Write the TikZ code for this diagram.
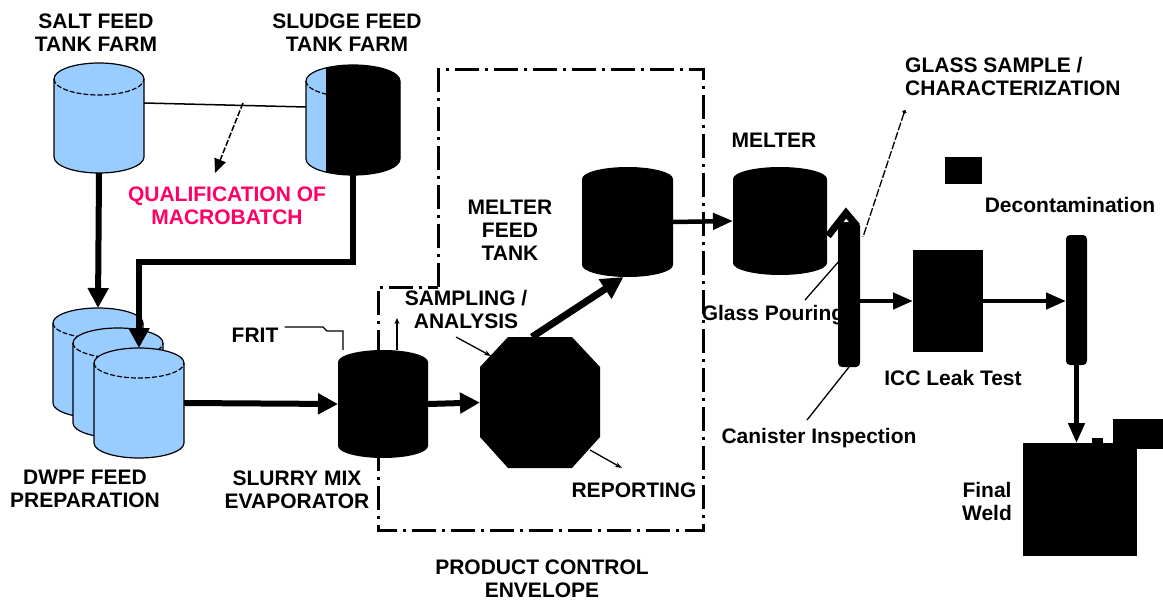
\documentclass[tikz,border=0pt]{standalone}
\usepackage{fontspec}
\setmainfont{Liberation Sans}
\usetikzlibrary{arrows.meta,calc}
\definecolor{tankblue}{RGB}{153,204,255}
\definecolor{qualpink}{RGB}{255,0,102}
% drum: style, x1, ytop, x2, ybot, ry
\newcommand\mydrum[6]{\path[#1] (#2,#3-#6) arc[start angle=180,end angle=0,x radius={((#4)-(#2))/2*1pt},y radius=#6pt] -- (#4,#5+#6) arc[start angle=0,end angle=-180,x radius={((#4)-(#2))/2*1pt},y radius=#6pt] -- cycle;}
% rim: x1, ytop, x2, ry
\newcommand\myrim[4]{\draw[line width=1.2pt,dash pattern=on 5pt off 2pt] (#1,#2-#4) arc[start angle=180,end angle=360,x radius={((#3)-(#1))/2*1pt},y radius=#4pt];}
% anchor box: name, x1, ytop, x2, ybot
\newcommand\myanc[5]{\node[inner sep=0,outer sep=0,minimum width={(#4)-(#2)},minimum height={(#3)-(#5)}] (#1) at ({((#2)+(#4))/2},{((#3)+(#5))/2}) {};}
\tikzset{
  lbl/.style={font=\fontsize{21}{23}\selectfont\bfseries,align=center,inner sep=0},
  flow/.style={line width=6pt,-{Triangle[length=20pt,width=20pt]}},
  flowthin/.style={line width=4.5pt,-{Triangle[length=20pt,width=16pt]}},
  leader/.style={line width=1.3pt},
  envelope/.style={line width=3pt,dash pattern=on 24pt off 6pt on 3pt off 6pt},
  blk/.style={fill=black}
}
\begin{document}
\begin{tikzpicture}[x=1pt,y=1pt]
\useasboundingbox (0,0) rectangle (1163,-602);
% ---------- tanks ----------
\myanc{salt}{54}{-63}{144}{-173}
\mydrum{fill=tankblue,draw=black,line width=1.2pt}{54}{-63}{144}{-173}{16}
\myrim{54}{-63}{144}{16}
\myanc{sludge}{306}{-65}{400}{-175}
\mydrum{fill=tankblue,draw=black,line width=1.2pt}{306}{-65}{400}{-175}{16}
\myrim{306}{-65}{400}{16}
\begin{scope}
\clip (326,-40) rectangle (430,-200);
\mydrum{blk}{306}{-65}{400}{-175}{16}
\end{scope}
% DWPF feed tanks
\myanc{dwpfback}{53}{-308}{143}{-418}
\mydrum{fill=tankblue,draw=black,line width=1.2pt}{53}{-308}{143}{-418}{15}
\myrim{53}{-308}{143}{15}
\myanc{dwpfmid}{73}{-328}{163}{-438}
\mydrum{fill=tankblue,draw=black,line width=1.2pt}{73}{-328}{163}{-438}{15}
\myrim{73}{-328}{163}{15}
\myanc{dwpffront}{94}{-348}{184}{-458}
\mydrum{fill=tankblue,draw=black,line width=1.2pt}{94}{-348}{184}{-458}{15}
\myrim{94}{-348}{184}{15}
% black vessels
\myanc{slurry}{338}{-350}{428}{-458}
\mydrum{blk}{338}{-350}{428}{-458}{12}
\myanc{mft}{582}{-167}{673}{-277}
\mydrum{blk}{582}{-167}{673}{-277}{12}
\myanc{melter}{733}{-167}{827}{-275}
\mydrum{blk}{733}{-167}{827}{-275}{12}
% octagon
\myanc{oct}{480}{-337}{600}{-468}
\fill (508,-337) -- (572,-337) -- (600,-367) -- (600,-437) -- (572,-468) -- (508,-468) -- (480,-437) -- (480,-367) -- cycle;
% canister, spout
\myanc{canister}{838}{-217}{860}{-367}
\fill[rounded corners=4pt] (838,-222) rectangle (860,-367);
\draw[line width=7pt,line join=miter] (828,-236) -- (846,-213) -- (857,-226);
% ICC, decon, final weld
\myanc{icc}{913}{-250}{983}{-352}
\fill (913,-250) rectangle (983,-352);
\myanc{decon}{1066}{-235}{1087}{-365}
\fill[rounded corners=4pt] (1066,-235) rectangle (1087,-365);
\myanc{decsq}{945}{-157}{982}{-184}
\fill (945,-157) rectangle (982,-184);
\myanc{weld}{1023}{-443}{1137}{-556}
\fill (1023,-443) rectangle (1137,-556);
\myanc{weldtop}{1113}{-419}{1163}{-449}
\fill (1113,-419) rectangle (1163,-449);
\fill (1092,-438) rectangle (1103,-444);
% ---------- envelope ----------
\draw[envelope] (438,-287) -- (438,-70) -- (703,-70) -- (703,-530) -- (378,-530) -- (378,-287) -- cycle;
% ---------- labels ----------
\node[lbl] (saltlbl) at (96,-33) {SALT FEED\\TANK FARM};
\node[lbl] (sludgelbl) at (347,-33) {SLUDGE FEED\\TANK FARM};
\node[lbl,text=qualpink] (qual) at (227,-206) {QUALIFICATION OF\\MACROBATCH};
\node[lbl] (dwpflbl) at (85,-489) {DWPF FEED\\PREPARATION};
\node[lbl] (frit) at (255,-335) {FRIT};
\node[lbl] (slurrylbl) at (297,-490) {SLURRY MIX\\EVAPORATOR};
\node[lbl] (samplbl) at (466,-309) {SAMPLING /\\ANALYSIS};
\node[lbl] (mftlbl) at (510,-230) {MELTER\\FEED\\TANK};
\node[lbl] (replbl) at (634,-490) {REPORTING};
\node[lbl] (envlbl) at (542,-579) {PRODUCT CONTROL\\ENVELOPE};
\node[lbl] (meltlbl) at (774,-140) {MELTER};
\node[lbl,align=left,anchor=west] (glasslbl) at (905,-76) {GLASS SAMPLE /\\CHARACTERIZATION};
\node[lbl] (pourlbl) at (773,-315) {Glass Pouring};
\node[lbl] (decolbl) at (1070,-205) {Decontamination};
\node[lbl] (icclbl) at (953,-378) {ICC Leak Test};
\node[lbl] (canlbl) at (819,-438) {Canister Inspection};
\node[lbl] (weldlbl) at (987,-501) {Final\\Weld};
% ---------- connectors ----------
\draw[line width=1.5pt] ([yshift=15pt]salt.east) -- ([yshift=13pt]sludge.west);
\coordinate (qj) at (243,-103);
\coordinate (qa) at (215,-173);
\draw[line width=1.5pt,dash pattern=on 6pt off 2pt,-{Triangle[length=14pt,width=12pt]}] (qj) -- (qa);
\draw[flow] (salt.south) -- (dwpfback.north);
\draw[line width=6pt,-{Triangle[length=20pt,width=20pt]}] (sludge.south) -- ++(0,-87) -| (dwpffront.north);
\draw[flow] (dwpffront.east) -- (slurry.west);
\draw[flow] (slurry.east) -- (oct.west);
\draw[line width=7pt,-{Triangle[length=22pt,width=22pt]}] ([xshift=-8pt]oct.north) -- ([xshift=-4pt]mft.south);
\draw[flowthin] (mft.east) -- (melter.west);
\draw[flowthin] (canister.east |- icc.west) -- (icc.west);
\draw[flowthin] (icc.east) -- (decon.west |- icc.east);
\draw[flowthin] (decon.south) -- (decon.south |- weld.north);
% FRIT leader and vent
\coordinate (fritend) at (343,-350);
\draw[leader] ([xshift=6pt,yshift=8pt]frit.east) -- (323,-327) -- (327,-331) -- (343,-331) -- (fritend);
\coordinate (vent) at (397,-318);
\draw[leader,-{Stealth[length=6pt,width=5pt]}] (397,-350) -- (vent);
% sampling / reporting leaders
\coordinate (sampa) at (456,-337);
\coordinate (sampb) at (491,-356);
\draw[leader,-{Stealth[length=7pt,width=5pt]}] (sampa) -- (sampb);
\coordinate (repa) at (590,-450);
\coordinate (repb) at (622,-468);
\draw[leader,-{Stealth[length=7pt,width=5pt]}] (repa) -- (repb);
% glass sample leader
\coordinate (gsa) at (905,-110);
\coordinate (gsb) at (863,-237);
\draw[leader,dash pattern=on 8pt off 2pt,{Circle[open,length=4pt]}-] (gsa) -- (gsb);
% glass pouring leader
\coordinate (gpa) at (805,-300);
\coordinate (gpb) at (840,-260);
\draw[leader] (gpa) -- (gpb);
% canister inspection leader
\coordinate (cia) at (807,-420);
\draw[leader] (canister.south) -- (cia);
\end{tikzpicture}
\end{document}
